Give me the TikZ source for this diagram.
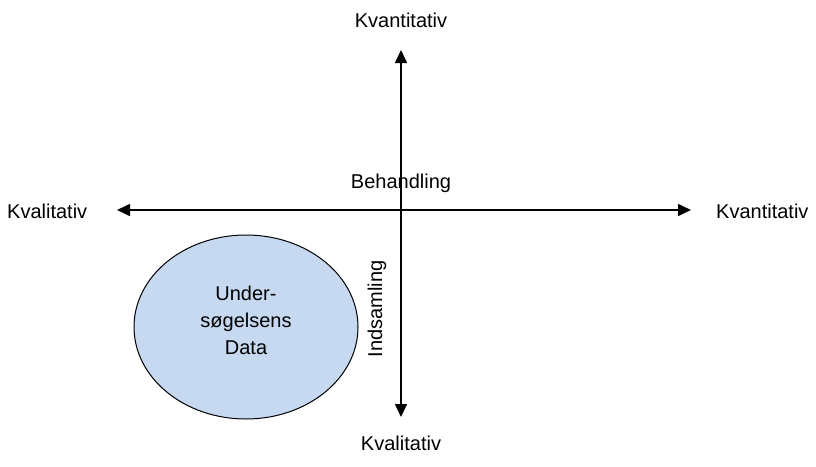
\documentclass[tikz,border=0pt]{standalone}
\usepackage{fontspec}
\setmainfont{Liberation Sans}
\usetikzlibrary{arrows.meta}
\definecolor{datafill}{RGB}{198,217,241}
\begin{document}
\begin{tikzpicture}[x=1pt,y=-1pt,
  axis/.style={line width=1.6pt,-{Triangle[length=13pt,width=12pt]}},
  lbl/.style={font=\fontsize{20}{23}\selectfont,inner sep=0pt}]
\useasboundingbox (0,0) rectangle (816,466);
% axes
\coordinate (o) at (401,210);
\coordinate (top) at (401,50);
\coordinate (bot) at (401,417);
\coordinate (left) at (117,210);
\coordinate (right) at (691,210);
\draw[axis] (o) -- (top);
\draw[axis] (o) -- (bot);
\draw[axis] (o) -- (left);
\draw[axis] (o) -- (right);
% labels
\node[lbl] (kt) at (401,20) {Kvantitativ};
\node[lbl] (kb) at (401,443) {Kvalitativ};
\node[lbl,anchor=west] (kl) at (7,211) {Kvalitativ};
\node[lbl,anchor=west] (kr) at (716,211) {Kvantitativ};
\node[lbl] (beh) at (401,183) {Behandling};
\node[lbl,rotate=90] (ind) at (377,309) {Indsamling};
% data ellipse
\draw[line width=1pt,fill=datafill] (246,327) ellipse [x radius=112,y radius=92];
\node[lbl,align=center,font=\fontsize{20}{27}\selectfont] (data) at (246,320) {Under-\\søgelsens\\Data};
\end{tikzpicture}
\end{document}
